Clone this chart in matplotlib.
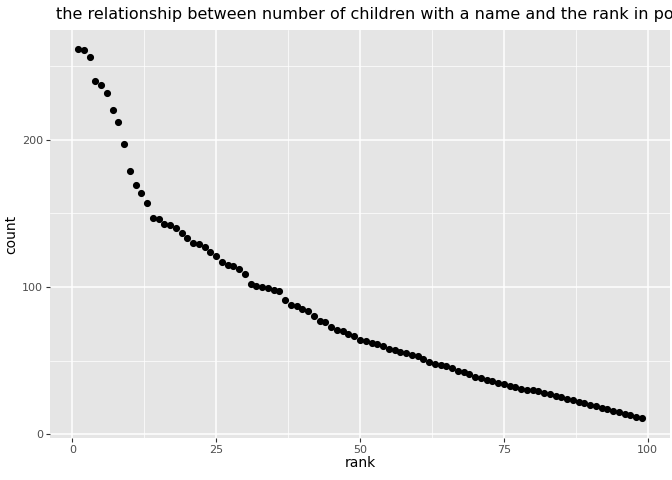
import numpy as np
from matplotlib import pyplot as plt

# counts, rank 1..99
count = [262, 261, 256, 240, 237, 232, 220, 212, 197, 179,
         169, 164, 157, 147, 146, 143, 142, 140, 137, 133,
         130, 129, 127, 124, 121, 117, 115, 114, 112, 109,
         102, 101, 100, 99, 98, 97, 91, 88, 87, 85,
         84, 80, 77, 76, 73, 71, 70, 68, 67, 64,
         63, 62, 61, 60, 58, 57, 56, 55, 54, 53,
         51, 49, 48, 47, 46, 45, 43, 42, 41, 39,
         38, 37, 36, 35, 34, 33, 32, 31, 30, 30,
         29, 28, 27, 26, 25, 24, 23, 22, 21, 20,
         19, 18, 17, 16, 15, 14, 13, 12, 11]
rank = np.arange(1, len(count) + 1)

fig = plt.figure(figsize=(6.72, 4.8), dpi=100)
ax = fig.add_axes([50/672, 1 - 438/480, 620/672, 408/480])
ax.set_facecolor("#e5e5e5")
ax.scatter(rank, count, s=17, color="black", zorder=3)

ax.set_xlim(-3.9, 103.9)
ax.set_ylim(-2.6, 274.6)
ax.set_xticks([0, 25, 50, 75, 100])
ax.set_yticks([0, 100, 200])
ax.set_xticks([12.5, 37.5, 62.5, 87.5], minor=True)
ax.set_yticks([50, 150, 250], minor=True)
ax.grid(which="major", color="white", linewidth=1.1)
ax.grid(which="minor", color="white", linewidth=0.5)
ax.set_axisbelow(True)
for s in ax.spines.values():
    s.set_visible(False)
ax.tick_params(which="major", length=3, color="#333333", labelsize=8, labelcolor="#4d4d4d", pad=2)
ax.tick_params(which="minor", length=0)
ax.set_xlabel("rank", fontsize=10, labelpad=1)
ax.set_ylabel("count", fontsize=10, labelpad=3)
# title runs past the right edge, as in the original
fig.text(56/672, 1 - 15/480, "the relationship between number of children with a name and the rank in popularity",
         fontsize=11.5, va="center", ha="left")

fig.savefig("out.png", dpi=100)
